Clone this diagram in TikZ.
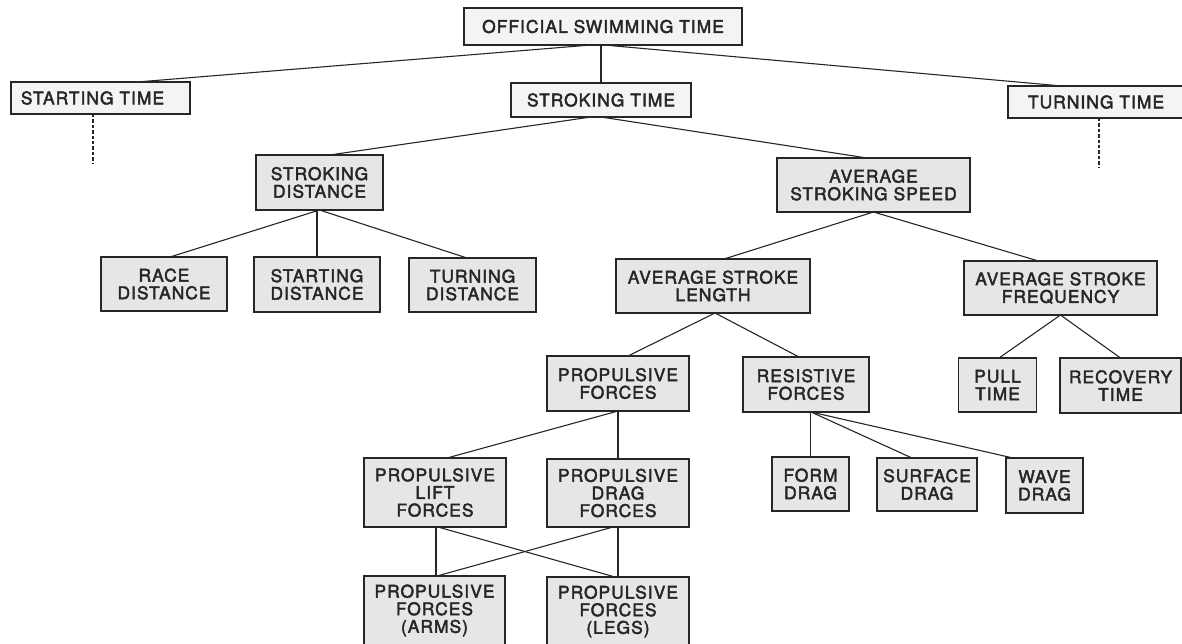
\documentclass[tikz,border=0pt]{standalone}
\usepackage{fontspec}
\usetikzlibrary{calc}
\newfontfamily\heros[LetterSpace=6,FakeBold=2.4]{TeX Gyre Heros}
\definecolor{ink}{HTML}{262626}
\definecolor{boxlight}{HTML}{F4F4F4}
\definecolor{boxgray}{HTML}{E6E6E6}
\begin{document}
\begin{tikzpicture}[x=0.5pt,y=-0.5pt,
  box/.style={draw=ink, line width=0.6pt, fill=boxgray, inner sep=0pt, outer sep=0pt,
    align=center, text=ink, font=\heros\fontsize{8.7}{8.8}\selectfont},
  wh/.style 2 args={minimum width=#1*0.5pt, minimum height=#2*0.5pt},
  light/.style={fill=boxlight},
  link/.style={draw=ink, line width=0.55pt},
  stub/.style={draw=ink, line width=0.6pt, dash pattern=on 1.7pt off 1pt}]
\useasboundingbox (0,0) rectangle (1182,643);
\clip (0,0) rectangle (1182,643);

\node[box,light,wh={278}{37}] (off) at (603,26.5) {OFFICIAL SWIMMING TIME};
\node[box,light,wh={179}{32}] (st) at (100.5,98) {STARTING TIME\kern8pt};
\node[box,light,wh={180}{34}] (sk) at (601,100) {STROKING TIME};
\node[box,light,wh={176}{32}] (tt) at (1096,102) {TURNING TIME};
\node[box,wh={127}{55}] (sd) at (319.5,182.5) {STROKING\\DISTANCE};
\node[box,wh={193}{54}] (ass) at (873.5,185) {AVERAGE\\STROKING SPEED};
\node[box,wh={126}{54}] (rd) at (164,284) {RACE\\DISTANCE};
\node[box,wh={126}{55}] (sdi) at (317,284.5) {STARTING\\DISTANCE};
\node[box,wh={127}{54}] (tdi) at (472.5,285) {TURNING\\DISTANCE};
\node[box,wh={194}{54}] (asl) at (713,286) {AVERAGE STROKE\\LENGTH};
\node[box,wh={193}{54}] (asf) at (1060.5,288) {AVERAGE STROKE\\FREQUENCY};
\node[box,wh={142}{55}] (pf) at (618,383.5) {PROPULSIVE\\FORCES};
\node[box,wh={126}{55}] (rf) at (806,384.5) {RESISTIVE\\FORCES};
\node[box,wh={78}{54}] (pt) at (997.5,385) {PULL\\TIME};
\node[box,wh={121}{55}] (rt) at (1120.5,385.5) {RECOVERY\\TIME};
\node[box,wh={142}{69}] (plf) at (435,492.5) {PROPULSIVE\\LIFT\\FORCES};
\node[box,wh={142}{68}] (pdf) at (618,493) {PROPULSIVE\\DRAG\\FORCES};
\node[box,wh={77}{54}] (fd) at (810.5,484) {FORM\\DRAG};
\node[box,wh={100}{53}] (sfd) at (927,484.5) {SURFACE\\DRAG};
\node[box,wh={77}{55}] (wd) at (1044.5,485.5) {WAVE\\DRAG};
\node[box,wh={141}{69}] (arm) at (434.5,610.5) {PROPULSIVE\\FORCES\\(ARMS)};
\node[box,wh={142}{69}] (leg) at (618,611.5) {PROPULSIVE\\FORCES\\(LEGS)};

\coordinate (stend) at (93,163);
\coordinate (ttend) at (1099,168);

\draw[link] ($(off.south)+(-12,0)$) -- ($(st.north)+(36.5,0)$);
\draw[link] (sk.north) -- (sk.north |- off.south);
\draw[link] ($(off.south)+(1,0)$) -- ($(tt.north)+(-34,0)$);
\draw[stub] (st.south -| stend) -- (stend);
\draw[stub] (tt.south -| ttend) -- (ttend);
\draw[link] ($(sk.south)+(-10,0)$) -- ($(sd.north)+(10,0)$);
\draw[link] (sk.south) -- ($(ass.north)+(-6.5,0)$);
\draw[link] (sd.south) -- ($(rd.north)+(6,0)$);
\draw[link] (sdi.north) -- (sdi.north |- sd.south);
\draw[link] (sd.south) -- ($(tdi.north)+(-5.5,0)$);
\draw[link] (ass.south) -- ($(asl.north)+(11,0)$);
\draw[link] (ass.south) -- ($(asf.north)+(-22,0)$);
\draw[link] ($(asl.south)+(2,0)$) -- ($(pf.north)+(10,0)$);
\draw[link] ($(asl.south)+(2,0)$) -- ($(rf.north)+(-7,0)$);
\draw[link] (asf.south) -- ($(pt.north)+(1.5,0)$);
\draw[link] (asf.south) -- (rt.north);
\draw[link] (pf.south) -- ($(plf.north)+(12,0)$);
\draw[link] (pdf.north) -- (pdf.north |- pf.south);
\draw[link] (fd.north) -- (fd.north |- rf.south);
\draw[link] ($(rf.south)+(5,0)$) -- ($(sfd.north)+(-15,0)$);
\draw[link] ($(rf.south)+(5,0)$) -- ($(wd.north)+(-31.5,0)$);
\draw[link] ($(plf.south)+(1,0)$) -- ($(arm.north)+(1.5,0)$);
\draw[link] ($(plf.south)+(3,0)$) -- ($(leg.north)+(-3,0)$);
\draw[link] ($(pdf.south)+(-5,0)$) -- ($(arm.north)+(2.5,0)$);
\draw[link] (leg.north) -- (leg.north |- pdf.south);
\end{tikzpicture}
\end{document}
